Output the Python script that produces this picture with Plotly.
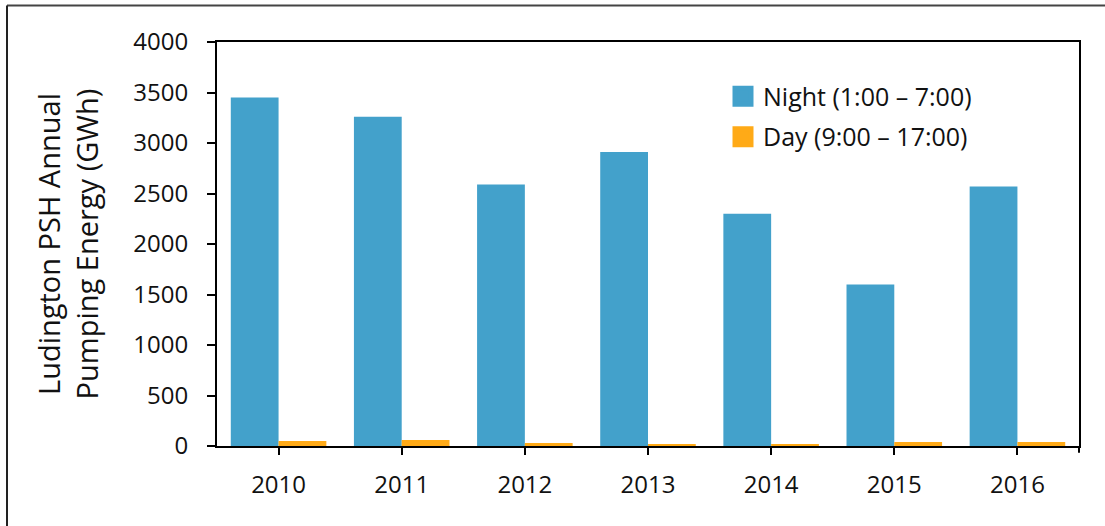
import plotly.graph_objects as go

years = ["2010", "2011", "2012", "2013", "2014", "2015", "2016"]
night = [3450, 3260, 2590, 2910, 2300, 1600, 2570]
day = [50, 60, 30, 20, 20, 40, 40]

night_name = "Night (1:00 – 7:00)"
day_name = "Day (9:00 – 17:00)"
night_color = "#43A1CB"
day_color = "#FFAA17"

W, H = 1105, 526
L, R, T, B = 217, 26, 41.5, 79.7
pw = W - L - R
ph = H - T - B

def px_x(p):
    return (p - L) / pw

def px_y(p):
    return (H - B - p) / ph

FONT = "Open Sans"

fig = go.Figure()
fig.add_trace(go.Bar(x=years, y=night, name=night_name, showlegend=False,
                     marker=dict(color=night_color, line=dict(width=0))))
fig.add_trace(go.Bar(x=years, y=day, name=day_name, showlegend=False,
                     marker=dict(color=day_color, line=dict(width=0))))
# legend entries with larger square swatches
fig.add_trace(go.Scatter(x=[None], y=[None], mode="markers", name=night_name, legendgroup="n",
                         marker=dict(symbol="square", size=16, color=night_color,
                                     line=dict(color=night_color, width=5))))
fig.add_trace(go.Scatter(x=[None], y=[None], mode="markers", name=day_name, legendgroup="d",
                         marker=dict(symbol="square", size=16, color=day_color,
                                     line=dict(color=day_color, width=5))))

fig.update_layout(
    width=W, height=H,
    margin=dict(l=L, r=R, t=T, b=B, autoexpand=False),
    paper_bgcolor="white", plot_bgcolor="white",
    barmode="group", bargap=0.224, bargroupgap=0,
    font=dict(family=FONT, size=20, color="#111111"),
    showlegend=True,
    legend=dict(x=px_x(723), y=px_y(73), xanchor="left", yanchor="top",
                bgcolor="rgba(0,0,0,0)", font=dict(size=25, family=FONT),
                tracegroupgap=5, itemwidth=30),
    xaxis=dict(showline=True, linecolor="black", linewidth=2, mirror=True,
               ticks="outside", ticklen=7, tickwidth=2, tickcolor="black",
               ticklabelstandoff=9,
               showgrid=False, tickfont=dict(size=24, family=FONT)),
    yaxis=dict(range=[0, 4000], dtick=500, showline=True, linecolor="black", linewidth=2,
               mirror=True, ticks="outside", ticklen=8, tickwidth=2, tickcolor="black",
               ticklabelstandoff=14,
               showgrid=False, zeroline=False, tickfont=dict(size=24, family=FONT),
               title=dict(text="Ludington PSH Annual<br>Pumping Energy (GWh)",
                          font=dict(size=29, family=FONT), standoff=26)),
    shapes=[
        dict(type="line", xref="paper", yref="paper", x0=1, x1=1, y0=0, y1=px_y(453),
             line=dict(color="black", width=2)),
        dict(type="line", xref="paper", yref="paper", x0=px_x(7), x1=px_x(1120), y0=px_y(5), y1=px_y(5),
             line=dict(color="#444444", width=2)),
        dict(type="line", xref="paper", yref="paper", x0=px_x(7), x1=px_x(7), y0=px_y(5), y1=px_y(540),
             line=dict(color="#222222", width=2)),
    ],
)

fig.write_html("out.html", config={"displayModeBar": False},
               post_script="document.body.style.margin='0px';document.body.style.overflow='hidden';")
